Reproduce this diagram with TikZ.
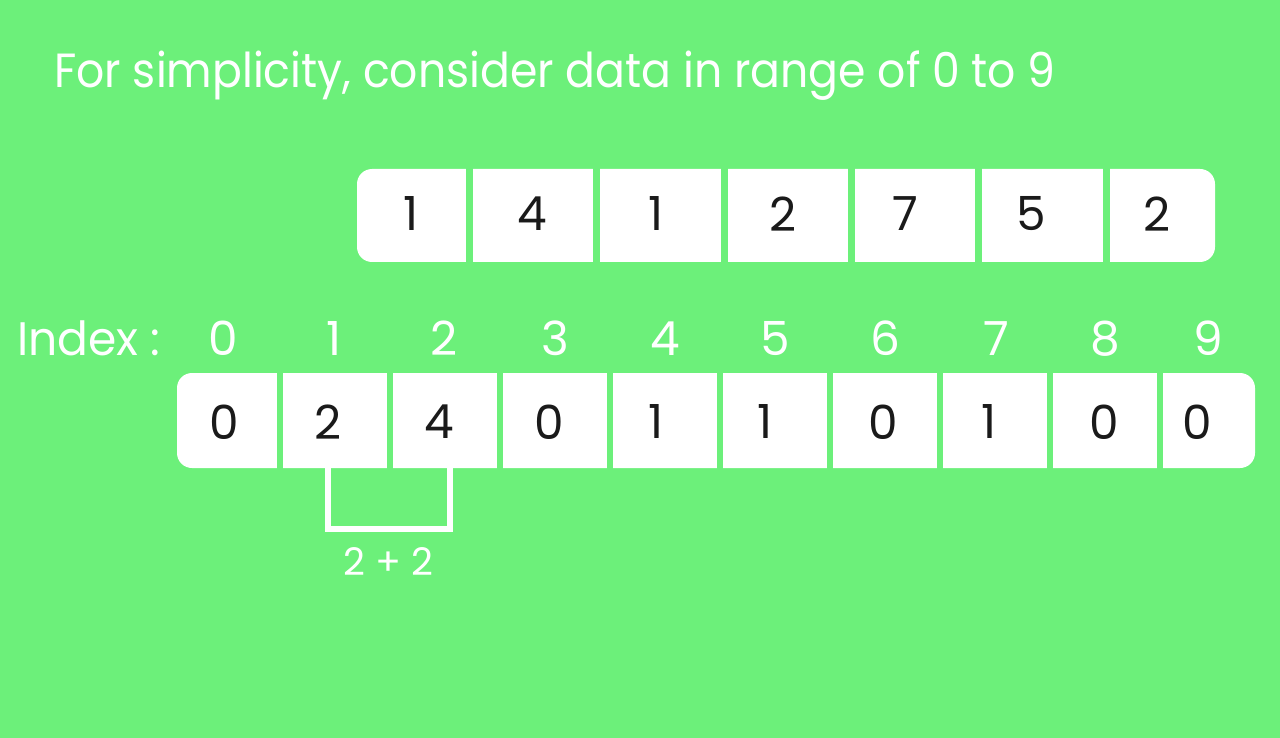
\documentclass[tikz,border=0pt]{standalone}
\usepackage{fontspec}
\setmainfont{Poppins}
\definecolor{bg}{RGB}{108,240,122}
\definecolor{ink}{RGB}{26,26,26}
\begin{document}
\begin{tikzpicture}[x=1pt,y=-1pt,
  titletext/.style={font=\fontsize{48}{58}\selectfont, text=white, inner sep=0pt, anchor=base west, xscale=0.92, transform shape},
  digit/.style={font=\fontsize{47}{56}\selectfont, text=ink, inner sep=0pt},
  idx/.style={font=\fontsize{47}{56}\selectfont, text=white, inner sep=0pt, anchor=base},
  sumtext/.style={font=\fontsize{38}{46}\selectfont, text=white, inner sep=0pt},
  arraybox/.style={fill=white, rounded corners=15pt},
  gapstrip/.style={fill=bg},
  bracket/.style={draw=white, line width=6pt}]
\fill[bg] (0,0) rectangle (1280,738);
\useasboundingbox (0,0) rectangle (1280,738);
% title
\node[titletext] (title) at (54,88) {For simplicity, consider data in range of 0 to 9};
% top array
\fill[arraybox] (357,169) rectangle (1215,262);
\foreach \g in {469.5,596.8,724.1,851.4,978.7,1106.0}
  \fill[gapstrip] (\g-3.5,165) rectangle (\g+3.5,266);
\foreach \v/\x [count=\i] in {1/411,4/532,1/656,2/783,7/905,5/1031,2/1157}
  \node[digit] (a\i) at (\x,214) {\v};
% index labels
\node[idx, anchor=base west, xscale=0.97, transform shape] (lbl) at (17,355) {Index :};
\foreach \x [count=\i from 0] in {223,334,444,555,665,775,885,996,1105,1208}
  \node[idx] (i\i) at (\x,355) {\i};
% bottom array
\fill[arraybox] (177,373) rectangle (1255,468);
\foreach \g in {280,390,500,610,720,830,940,1050,1160}
  \fill[gapstrip] (\g-3,369) rectangle (\g+3,472);
\foreach \v/\x [count=\i from 0] in {0/224,2/328,4/439,0/549,1/656,1/765,0/883,1/989,0/1104,0/1197}
  \node[digit] (b\i) at (\x,422) {\v};
% bracket
\coordinate (bl) at (328,468);
\coordinate (br) at (450,468);
\draw[bracket] (bl) -- ++(0,61) -| (br);
\node[sumtext] (sum) at (388,562) {2 + 2};
\end{tikzpicture}
\end{document}
